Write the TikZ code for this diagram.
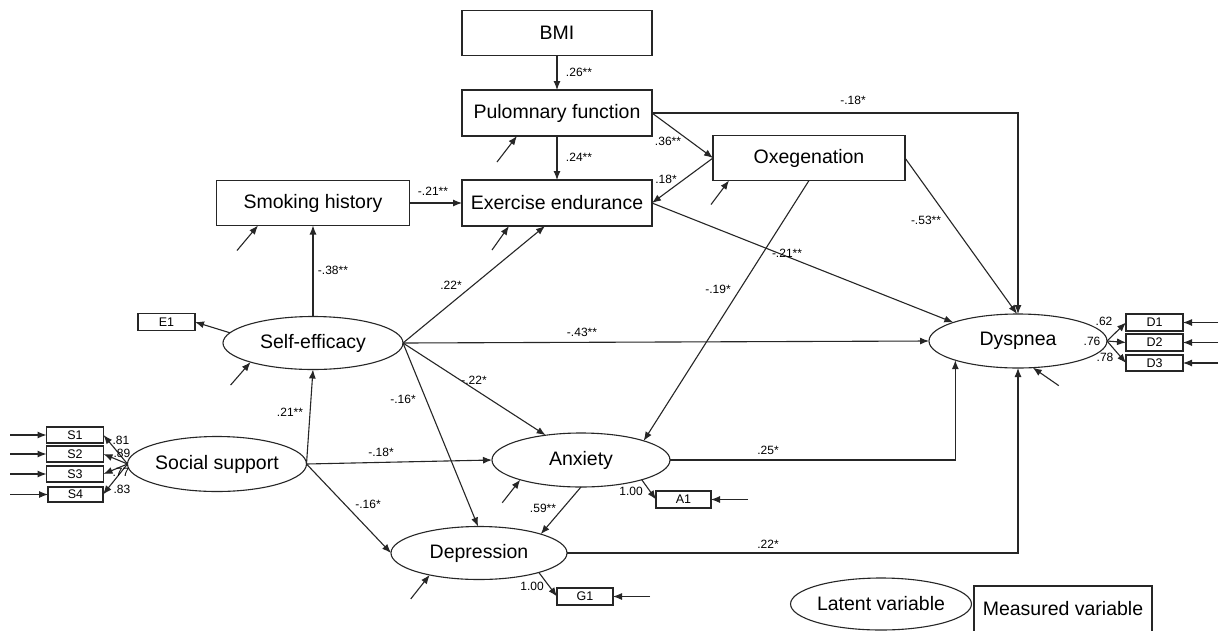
\documentclass[tikz,border=0pt]{standalone}
\usepackage{fontspec}
\setmainfont{Liberation Sans}
\usetikzlibrary{shapes.geometric,arrows.meta,calc}
\begin{document}
\begin{tikzpicture}[x=1pt,y=-1pt,
  line width=1.1pt, draw=black!85,
  arr/.style={-{Latex[length=9pt,width=7pt]}},
  big/.style={font=\fontsize{19.5}{22}\selectfont},
  lab/.style={font=\fontsize{12}{14}\selectfont, inner sep=0pt},
  rbox/.style={draw, rectangle, inner sep=0pt, outer sep=0pt, big},
  ebox/.style={draw, ellipse, inner sep=0pt, outer sep=0pt, big},
  sbox/.style={draw, rectangle, inner sep=0pt, outer sep=0pt, font=\fontsize{12.5}{14}\selectfont}
]
\useasboundingbox (0,0) rectangle (1221,630);
\clip (0,0) rectangle (1221,630);
\fill[white] (0,0) rectangle (1221,630);

% rectangles
\node[rbox, minimum width=190pt, minimum height=45pt] (bmi) at (557,33) {BMI};
\node[rbox, minimum width=190pt, minimum height=46pt] (pf) at (557,113) {Pulomnary function};
\node[rbox, minimum width=190pt, minimum height=46pt] (ex) at (557,203) {Exercise endurance};
\node[rbox, minimum width=193pt, minimum height=45pt] (sm) at (313,203) {Smoking history};
\node[rbox, minimum width=192pt, minimum height=45pt] (ox) at (809,158) {Oxegenation};

% ellipses
\node[ebox, minimum width=180pt, minimum height=53pt] (se) at (313,343) {Self-efficacy};
\node[ebox, minimum width=179pt, minimum height=55pt] (ss) at (217,464) {Social support};
\node[ebox, minimum width=178pt, minimum height=54pt] (dys) at (1018,341) {Dyspnea};
\node[ebox, minimum width=178pt, minimum height=54pt] (anx) at (581,460) {Anxiety};
\node[ebox, minimum width=176pt, minimum height=53pt] (dep) at (479,553) {Depression};

% small indicator boxes
\node[sbox, minimum width=57pt, minimum height=17pt] (e1) at (166.5,322) {E1};
\node[sbox, minimum width=57pt, minimum height=16pt] (s1) at (75,435) {S1};
\node[sbox, minimum width=57pt, minimum height=16pt] (s2) at (75,454) {S2};
\node[sbox, minimum width=57pt, minimum height=16pt] (s3) at (75,474) {S3};
\node[sbox, minimum width=55pt, minimum height=15pt] (s4) at (75.5,494.5) {S4};
\node[sbox, minimum width=57pt, minimum height=17pt] (d1) at (1154.5,322.5) {D1};
\node[sbox, minimum width=57pt, minimum height=17pt] (d2) at (1154.5,342.5) {D2};
\node[sbox, minimum width=57pt, minimum height=16pt] (d3) at (1154.5,363) {D3};
\node[sbox, minimum width=55pt, minimum height=17pt] (a1) at (683.5,499.5) {A1};
\node[sbox, minimum width=56pt, minimum height=17pt] (g1) at (585,596.5) {G1};

% legend
\node[ebox, minimum width=168pt, minimum height=52pt] (legl) at (881,604) {Latent variable};
\node[rbox, minimum width=178pt, minimum height=58pt, text depth=0pt] (legm) at (1063,615) {};
\node[big, inner sep=0pt] (legmt) at (1063,609) {Measured variable};

% structural paths
\draw[arr] (bmi.south) -- (pf.north);
\draw[arr] (pf.south) -- (ex.north);
\draw[arr] (pf.east) -- (ox.west);
\draw[arr] (ox.west) -- (ex.east);
\draw[arr] (sm.east) -- (ex.west);
\draw[arr] (pf.east) -| (dys.north);
\draw[arr] (ox.east) -- (dys.92);
\draw[arr] (ox.south) -- (anx.17);
\draw[arr] (ex.east) -- (dys.164);
\draw[arr] (se.east) -- ($(ex.south)+(-12,0)$);
\draw[arr] (se.east) -- (dys.west);
\draw[arr] (se.east) -- (anx.145);
\draw[arr] (se.east) -- (dep.92);
\draw[arr] (se.north) -- (sm.south);
\draw[arr] (se.173) -- (e1.east);
\draw[arr] (ss.east) -- (se.south);
\draw[arr] (ss.east) -- (anx.west);
\draw[arr] (ss.east) -- (dep.west);
\draw[arr] (anx.east) -| (dys.197);
\draw[arr] (dep.east) -| (dys.south);
\draw[arr] (anx.south) -- (dep.17);
\draw[arr] (anx.-18) -- (a1.west);
\draw[arr] (dep.-18) -- (g1.west);

% measurement paths
\draw[arr] (ss.west) -- (s1.east);
\draw[arr] (ss.west) -- (s2.east);
\draw[arr] (ss.west) -- (s3.east);
\draw[arr] (ss.west) -- (s4.east);
\draw[arr] (dys.east) -- (d1.west);
\draw[arr] (dys.east) -- (d2.west);
\draw[arr] (dys.east) -- (d3.west);

% error inputs
\coordinate (is1) at (10,435);
\coordinate (is2) at (10,454);
\coordinate (is3) at (10,474);
\coordinate (is4) at (10,494.5);
\draw[arr] (is1) -- (s1.west);
\draw[arr] (is2) -- (s2.west);
\draw[arr] (is3) -- (s3.west);
\draw[arr] (is4) -- (s4.west);
\coordinate (id1) at (1218,322.5);
\coordinate (id2) at (1218,342.5);
\coordinate (id3) at (1218,363);
\draw[arr] (id1) -- (d1.east);
\draw[arr] (id2) -- (d2.east);
\draw[arr] (id3) -- (d3.east);
\coordinate (ia1) at (748,499.5);
\draw[arr] (ia1) -- (a1.east);
\coordinate (ig1) at (650,596.5);
\draw[arr] (ig1) -- (g1.east);

% residuals
\draw[arr] ($(se.197)+(-20,23)$) -- (se.197);
\draw[arr] ($(sm.south)+(-76,25)$) -- ($(sm.south)+(-55,0)$);
\draw[arr] ($(pf.south)+(-60,26)$) -- ($(pf.south)+(-40,0)$);
\draw[arr] ($(ox.south)+(-98,24)$) -- ($(ox.south)+(-80,0)$);
\draw[arr] ($(ex.south)+(-65,24)$) -- ($(ex.south)+(-48,0)$);
\draw[arr] ($(anx.198)+(-18,23)$) -- (anx.198);
\draw[arr] ($(dep.204)+(-19,24)$) -- (dep.204);
\draw[arr] ($(dys.-61)+(26,18)$) -- (dys.-61);

% coefficient labels
\node[lab] (l1) at (579,72) {.26**};
\node[lab] (l2) at (579,157) {.24**};
\node[lab] (l3) at (668,141) {.36**};
\node[lab] (l4) at (666,179) {.18*};
\node[lab] (l5) at (433,191) {-.21**};
\node[lab] (l6) at (853,100) {-.18*};
\node[lab] (l7) at (926,220) {-.53**};
\node[lab] (l8) at (718,289) {-.19*};
\node[lab] (l9) at (787,253) {-.21**};
\node[lab] (l10) at (451,285) {.22*};
\node[lab] (l11) at (582,332) {-.43**};
\node[lab] (l12) at (474,380) {-.22*};
\node[lab] (l13) at (403,399) {-.16*};
\node[lab] (l14) at (333,270) {-.38**};
\node[lab] (l15) at (290,412) {.21**};
\node[lab] (l16) at (381,452) {-.18*};
\node[lab] (l17) at (368,504) {-.16*};
\node[lab] (l18) at (768,450) {.25*};
\node[lab] (l19) at (768,544) {.22*};
\node[lab] (l20) at (543,508) {.59**};
\node[lab] (l21) at (631,491) {1.00};
\node[lab] (l22) at (532,586) {1.00};
\node[lab] (l23) at (121,440) {.81};
\node[lab] (l24) at (122,453) {.89};
\node[lab] (l25) at (121,472) {.77};
\node[lab] (l26) at (122,489) {.83};
\node[lab] (l27) at (1104,321) {.62};
\node[lab] (l28) at (1092,341) {.76};
\node[lab] (l29) at (1105,357) {.78};
\end{tikzpicture}
\end{document}
